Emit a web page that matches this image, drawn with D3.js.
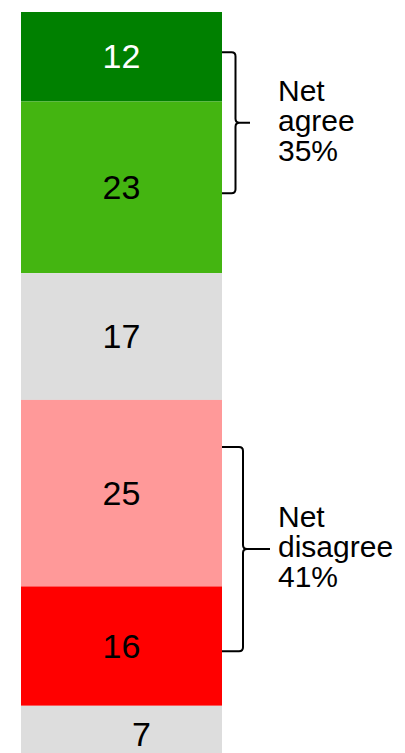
<!DOCTYPE html>
<html>
<head>
<meta charset="utf-8">
<script src="https://cdn.jsdelivr.net/npm/d3@7"></script>
<style>
  body { margin: 0; background: #fff; }
  #chart svg { display: block; }
</style>
</head>
<body>
<div id="chart"></div>
<script>
// stacked shares, top to bottom
const categories = ["Strongly agree", "Agree", "Neutral", "Disagree", "Strongly disagree", "Don't know"];
const values = [12, 23, 17, 25, 16, 7];
const colors = ["#008000", "#44b511", "#dddddd", "#ff9999", "#ff0000", "#dddddd"];
const labelColors = ["#fff", "#000", "#000", "#000", "#000", "#000"];

// brace annotations, in value units along the bar
const netLabels = [["Net", "agree", "35%"], ["Net", "disagree", "41%"]];
const netFrom = [5.4, 58.3];
const netTo = [24.3, 85.7];

const drawBar = () => {
  const width = 405;
  const height = 753;

  const svg = d3.select('#chart')
    .append('svg')
    .attr('width', width)
    .attr('height', height);

  const y = d3.scaleLinear().domain([0, 100]).range([12, 758]);
  const x = d3.scaleBand().domain(["bar"]).range([21, 222]).padding(0);

  const cum = d3.cumsum(values);
  const segs = values.map((v, i) => ({v, i, start: cum[i] - v, end: cum[i]}));

  svg.selectAll('rect')
    .data(segs)
    .enter()
    .append('rect')
    .attr('x', x("bar"))
    .attr('width', x.bandwidth())
    .attr('y', d => y(d.start))
    .attr('height', d => y(d.end) - y(d.start))
    .attr('fill', d => colors[d.i]);

  svg.selectAll('text.val')
    .data(segs)
    .enter()
    .append('text')
    .attr('class', 'val')
    // last label sits off centre in the original
    .attr('x', d => x("bar") + x.bandwidth() / 2 + (d.i === values.length - 1 ? 20 : 0))
    .attr('y', d => (y(d.start) + y(d.end)) / 2 + (d.i === values.length - 1 ? 3 : 0))
    .attr('dy', '0.34em')
    .attr('text-anchor', 'middle')
    .attr('font-family', 'Liberation Sans, Arial, sans-serif')
    .attr('font-size', '34px')
    .attr('fill', d => labelColors[d.i])
    .text(d => d.v);

  // curly braces
  const braceX = [235.5, 243];
  const tipX = [250, 270];
  netLabels.forEach((lines, k) => {
    const t = y(netFrom[k]), b = y(netTo[k]), m = (t + b) / 2;
    const vx = braceX[k], r = 4;
    const p = d3.path();
    p.moveTo(222, t);
    p.lineTo(vx - r, t);
    p.quadraticCurveTo(vx, t, vx, t + r);
    p.lineTo(vx, m - r);
    p.quadraticCurveTo(vx, m, vx + r, m);
    p.lineTo(tipX[k], m);
    p.moveTo(vx + r, m);
    p.quadraticCurveTo(vx, m, vx, m + r);
    p.lineTo(vx, b - r);
    p.quadraticCurveTo(vx, b, vx - r, b);
    p.lineTo(222, b);
    svg.append('path')
      .attr('d', p.toString())
      .attr('fill', 'none')
      .attr('stroke', '#000')
      .attr('stroke-width', 2);

    const txt = svg.append('text')
      .attr('x', 278)
      .attr('y', m - 22)
      .attr('font-family', 'Liberation Sans, Arial, sans-serif')
      .attr('font-size', '30px')
      .attr('fill', '#000');
    lines.forEach((s, j) => {
      txt.append('tspan')
        .attr('x', 278)
        .attr('dy', j === 0 ? 0 : 30)
        .text(s);
    });
  });
};

drawBar();
</script>
</body>
</html>
